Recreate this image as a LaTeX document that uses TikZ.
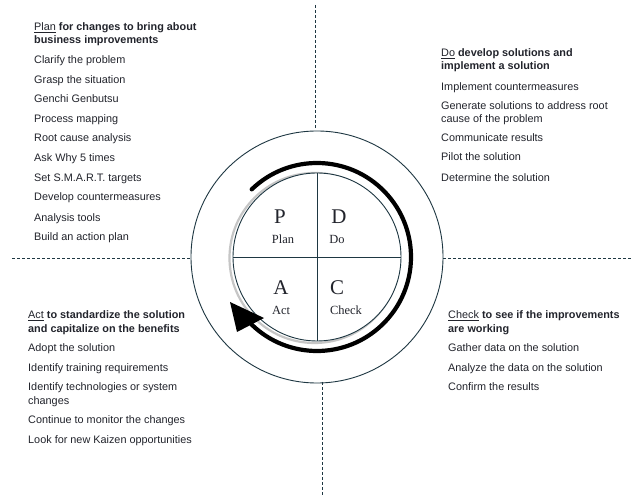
\documentclass[tikz,border=0pt]{standalone}
\usepackage{fontspec}
\setmainfont{Liberation Sans}
\newfontfamily\serifletters{Liberation Serif}
\definecolor{ringcol}{RGB}{30,55,66}
\definecolor{txtcol}{RGB}{34,36,44}
\begin{document}
\begin{tikzpicture}[x=1bp,y=1bp,
  ln/.style={anchor=base west,inner sep=0pt,text=txtcol,font=\fontsize{10.9}{12}\selectfont},
  hd/.style={ln,font=\fontsize{10.9}{12}\selectfont\bfseries},
  bigl/.style={font=\serifletters\fontsize{21}{21}\selectfont,text=txtcol,inner sep=0pt},
  smalll/.style={font=\serifletters\fontsize{12.5}{13}\selectfont,text=txtcol,inner sep=0pt},
  divider/.style={draw=ringcol,line width=0.8bp,dash pattern=on 3bp off 2bp},
  ring/.style={draw=ringcol,line width=0.9bp}]
\useasboundingbox (0,0) rectangle (635,495);
\fill[white] (0,0) rectangle (635,495);
% centre
\coordinate (o) at (317,238);
\coordinate (topA) at (315,490);
\coordinate (topB) at (315,367);
\coordinate (botA) at (322,113);
\coordinate (botB) at (322,0);
\coordinate (leftA) at (12,237);
\coordinate (leftB) at (190,237);
\coordinate (rightA) at (443,237);
\coordinate (rightB) at (632,237);
\draw[divider] (topA) -- (topB);
\draw[divider] (botA) -- (botB);
\draw[divider] (leftA) -- (leftB);
\draw[divider] (rightA) -- (rightB);
% rings
\draw[ring] (o) circle[radius=126];
\draw[gray!45,line width=2.2bp] ([xshift=-2.5bp,yshift=-1bp]o) circle[radius=85];
\draw[ring,fill=white] (o) circle[radius=84];
\draw[ring] ([yshift=84]o) -- ([yshift=-84]o);
\draw[ring] ([xshift=-84]o) -- ([xshift=84]o);
% cycle arrow
\draw[line width=4.2bp,line cap=round] ([shift={(134:94)}]o) arc[start angle=134,end angle=-134,radius=94];
\coordinate (tip) at (230,193);
\coordinate (wingA) at (237,163);
\coordinate (wingB) at (264,177);
\fill[black] (tip) -- (wingA) -- (wingB) -- cycle;
% quadrant letters
\node[bigl] (P) at (280,278) {P};
\node[smalll] (Pl) at (283,256) {Plan};
\node[bigl] (D) at (339,278) {D};
\node[smalll] (Dl) at (337,256) {Do};
\node[bigl] (A) at (281,207) {A};
\node[smalll] (Al) at (281,185) {Act};
\node[bigl] (C) at (337,207) {C};
\node[smalll] (Cl) at (346,185) {Check};
% Plan block
\node[hd] (p0) at (34,464) {\mdseries\underline{Plan}\bfseries{} for changes to bring about};
\node[hd] (p0b) at (34,451) {business improvements};
\node[ln] (p1) at (34,431) {Clarify the problem};
\node[ln] (p2) at (34,411) {Grasp the situation};
\node[ln] (p3) at (34,392) {Genchi Genbutsu};
\node[ln] (p4) at (34,372) {Process mapping};
\node[ln] (p5) at (34,353) {Root cause analysis};
\node[ln] (p6) at (34,333) {Ask Why 5 times};
\node[ln] (p7) at (34,313) {Set S.M.A.R.T. targets};
\node[ln] (p8) at (34,294) {Develop countermeasures};
\node[ln] (p9) at (34,273) {Analysis tools};
\node[ln] (p10) at (34,254) {Build an action plan};
% Do block
\node[hd] (d0) at (441,438) {\mdseries\underline{Do}\bfseries{} develop solutions and};
\node[hd] (d0b) at (441,425) {implement a solution};
\node[ln] (d1) at (441,404) {Implement countermeasures};
\node[ln] (d2) at (441,385) {Generate solutions to address root};
\node[ln] (d2b) at (441,372) {cause of the problem};
\node[ln] (d3) at (441,353) {Communicate results};
\node[ln] (d4) at (441,334) {Pilot the solution};
\node[ln] (d5) at (441,313) {Determine the solution};
% Act block
\node[hd] (a0) at (28,176) {\mdseries\underline{Act}\bfseries{} to standardize the solution};
\node[hd] (a0b) at (28,162) {and capitalize on the benefits};
\node[ln] (a1) at (28,143) {Adopt the solution};
\node[ln] (a2) at (28,123) {Identify training requirements};
\node[ln] (a3) at (28,104) {Identify technologies or system};
\node[ln] (a3b) at (28,90) {changes};
\node[ln] (a4) at (28,71) {Continue to monitor the changes};
\node[ln] (a5) at (28,51) {Look for new Kaizen opportunities};
% Check block
\node[hd] (c0) at (448,176) {\mdseries\underline{Check}\bfseries{} to see if the improvements};
\node[hd] (c0b) at (448,162) {are working};
\node[ln] (c1) at (448,143) {Gather data on the solution};
\node[ln] (c2) at (448,123) {Analyze the data on the solution};
\node[ln] (c3) at (448,104) {Confirm the results};
\end{tikzpicture}
\end{document}
